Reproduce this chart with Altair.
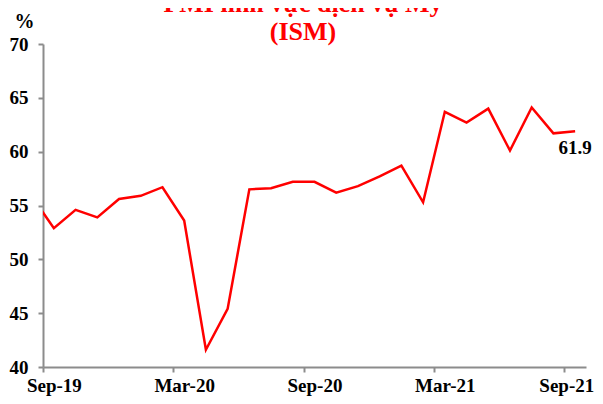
import altair as alt
import pandas as pd

months = ["Aug-19", "Sep-19", "Oct-19", "Nov-19", "Dec-19", "Jan-20", "Feb-20", "Mar-20",
          "Apr-20", "May-20", "Jun-20", "Jul-20", "Aug-20", "Sep-20", "Oct-20", "Nov-20",
          "Dec-20", "Jan-21", "Feb-21", "Mar-21", "Apr-21", "May-21", "Jun-21", "Jul-21",
          "Aug-21", "Sep-21"]
pmi = [55.8, 52.9, 54.6, 53.9, 55.6, 55.9, 56.7, 53.6,
       41.6, 45.4, 56.5, 56.6, 57.2, 57.2, 56.2, 56.8,
       57.7, 58.7, 55.3, 63.7, 62.7, 64.0, 60.1, 64.1,
       61.7, 61.9]
tick_labels = ["Sep-19", "Mar-20", "Sep-20", "Mar-21", "Sep-21"]
title_lines = ["PMI lĩnh vực dịch vụ Mỹ", "(ISM)"]
last_label = "61.9"

FONT = "Liberation Serif"
RED = "#ff0000"
GREY = "#8c8c8c"

# month index: Sep-19 = 0
df = pd.DataFrame({"month": months, "idx": [i - 1 for i in range(len(months))], "pmi": pmi})
tick_idx = [months.index(m) - 1 for m in tick_labels]
tick_vals = [t - 0.5 for t in tick_idx]
label_arr = "[" + ",".join("'%s'" % m for m in tick_labels) + "]"
label_expr = label_arr + "[round((datum.value + 0.5) / 6)]"

W, H = 543, 323
half = W / 25 / 2

xscale = alt.Scale(domain=[-0.5, 24.5], nice=False, zero=False)
yscale = alt.Scale(domain=[40, 70], nice=False, zero=False)

line = alt.Chart(df).mark_line(color=RED, strokeWidth=2.5, clip=True).encode(
    x=alt.X("idx:Q", scale=xscale,
            axis=alt.Axis(values=tick_vals, labelExpr=label_expr, title=None, grid=False,
                          domainColor=GREY, domainWidth=2, tickColor=GREY, tickWidth=2,
                          tickSize=5,
                          labelOffset={"condition": {"test": "datum.value > 20", "value": 2},
                                       "value": half},
                          labelPadding=4,
                          labelFont=FONT, labelFontSize=19, labelFontWeight="bold",
                          labelColor="black", labelFlush=False, labelOverlap=False)),
    y=alt.Y("pmi:Q", scale=yscale,
            axis=alt.Axis(values=[40, 45, 50, 55, 60, 65, 70], title="%", titleAngle=0,
                          titleX=-19, titleY=-17, titleAlign="center",
                          titleBaseline="alphabetic", titleFont=FONT, titleFontSize=20,
                          titleFontWeight="bold", titleColor="black", grid=False,
                          domainColor=GREY, domainWidth=2, tickColor=GREY, tickWidth=2,
                          tickSize=5, labelPadding=10, labelFont=FONT, labelFontSize=19,
                          labelFontWeight="bold", labelColor="black")),
)

last_df = df.tail(1).assign(label=last_label)
last_text = alt.Chart(last_df).mark_text(
    font=FONT, fontSize=19, fontWeight="bold", color="black", dy=23, baseline="alphabetic"
).encode(x="idx:Q", y="pmi:Q", text="label:N")

title_df = pd.DataFrame({"t": title_lines, "yy": [-32, -4]})
title = alt.Chart(title_df).mark_text(
    font=FONT, fontSize=26, fontWeight="bold", color=RED, align="center", baseline="alphabetic"
).encode(x=alt.value(303 - 43), y=alt.Y("yy:Q", scale=None), text="t:N")

chart = alt.layer(line, last_text, title).properties(
    width=W, height=H,
    autosize=alt.AutoSizeParams(type="none"),
    padding={"left": 35, "top": 36, "right": 9, "bottom": 29},
).configure_view(stroke=None)

chart.save("out.html", embed_options={"renderer": "svg", "actions": False})
